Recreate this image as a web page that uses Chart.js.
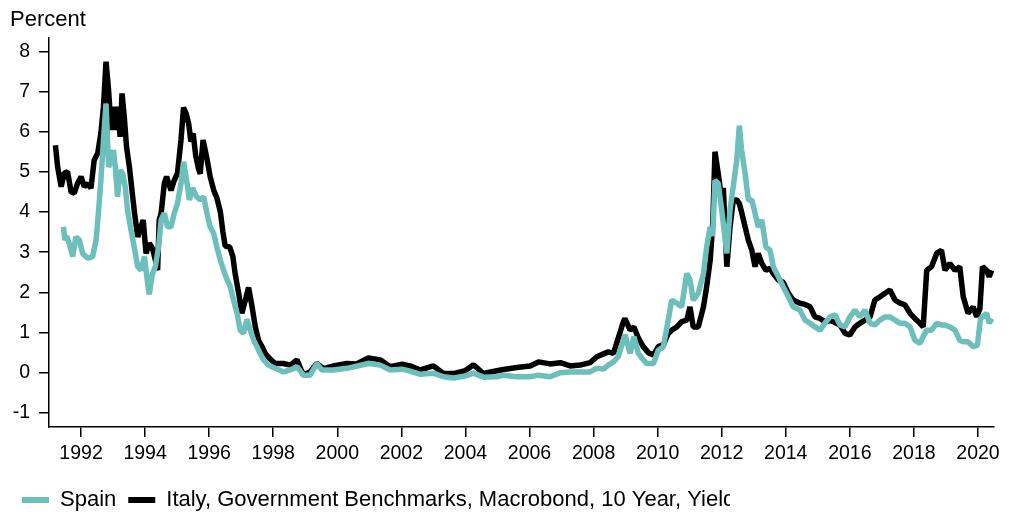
<!DOCTYPE html>
<html>
<head>
<meta charset="utf-8">
<script src="https://cdn.jsdelivr.net/npm/chart.js@4"></script>
<style>
  html, body { margin: 0; padding: 0; background: #fff; }
  #wrap { width: 1010px; height: 514px; }
</style>
</head>
<body>
<div id="wrap"><canvas id="c" width="1010" height="514"></canvas></div>
<script>
// ---- Data (decimal year, percent) ----
const seriesNames = ["Spain", "Italy, Government Benchmarks, Macrobond, 10 Year, Yield"];

const spainDates = [1991.45,1991.50,1991.55,1991.63,1991.74,1991.84,1991.95,1992.05,1992.21,1992.36,1992.47,1992.55,1992.62,1992.70,1992.78,1992.86,1992.94,1993.01,1993.07,1993.14,1993.22,1993.30,1993.38,1993.45,1993.56,1993.66,1993.77,1993.87,1993.98,1994.08,1994.13,1994.23,1994.32,1994.42,1994.50,1994.60,1994.70,1994.81,1994.91,1995.01,1995.12,1995.20,1995.31,1995.38,1995.48,1995.59,1995.72,1995.83,1995.93,1996.03,1996.14,1996.24,1996.35,1996.45,1996.56,1996.66,1996.76,1996.87,1996.97,1997.07,1997.18,1997.28,1997.39,1997.49,1997.59,1997.70,1997.85,1998.06,1998.32,1998.53,1998.74,1998.94,1999.15,1999.36,1999.52,1999.88,2000.30,2000.97,2001.34,2001.65,2002.02,2002.27,2002.59,2003.00,2003.31,2003.63,2003.99,2004.25,2004.56,2004.98,2005.19,2005.60,2006.02,2006.28,2006.64,2006.96,2007.27,2007.58,2007.89,2008.10,2008.31,2008.46,2008.62,2008.77,2008.93,2008.98,2009.14,2009.26,2009.40,2009.55,2009.66,2009.87,2010.02,2010.18,2010.33,2010.44,2010.60,2010.75,2010.91,2011.01,2011.11,2011.27,2011.43,2011.53,2011.64,2011.72,2011.79,2011.89,2012.00,2012.16,2012.26,2012.36,2012.47,2012.55,2012.62,2012.73,2012.83,2012.94,2013.04,2013.14,2013.25,2013.38,2013.51,2013.61,2013.77,2013.92,2014.08,2014.23,2014.44,2014.60,2014.76,2014.91,2015.07,2015.22,2015.38,2015.54,2015.69,2015.85,2016.00,2016.16,2016.31,2016.47,2016.63,2016.78,2016.94,2017.10,2017.25,2017.41,2017.57,2017.72,2017.88,2018.03,2018.19,2018.29,2018.40,2018.55,2018.71,2018.86,2018.97,2019.12,2019.28,2019.43,2019.54,2019.69,2019.85,2019.98,2020.08,2020.16,2020.27,2020.35,2020.43];
const spainValues = [3.63,3.30,3.40,3.22,2.89,3.38,3.30,2.97,2.85,2.89,3.30,4.05,4.79,5.79,6.70,5.12,5.29,5.54,5.12,4.38,5.04,4.96,4.63,4.05,3.55,3.13,2.64,2.55,2.89,2.22,1.95,2.47,2.64,3.13,3.80,3.97,3.63,3.63,3.97,4.21,4.71,5.25,4.71,4.30,4.60,4.40,4.30,4.38,3.97,3.63,3.47,3.13,2.80,2.55,2.31,2.14,1.81,1.48,1.06,0.98,1.33,1.06,0.81,0.65,0.48,0.32,0.19,0.11,0.02,0.07,0.15,-0.06,-0.06,0.23,0.07,0.07,0.11,0.23,0.19,0.07,0.09,0.04,-0.04,-0.01,-0.10,-0.13,-0.08,-0.01,-0.11,-0.10,-0.06,-0.10,-0.10,-0.06,-0.10,0.00,0.02,0.02,0.02,0.11,0.09,0.19,0.27,0.40,0.81,0.95,0.48,0.90,0.48,0.32,0.23,0.23,0.56,0.65,1.31,1.81,1.73,1.64,2.47,2.31,1.81,1.98,2.47,3.13,3.63,3.40,4.79,4.71,4.05,2.97,4.05,4.63,5.29,6.15,5.54,4.96,4.30,4.30,3.97,3.63,3.80,3.13,3.05,2.64,2.39,2.14,1.89,1.64,1.56,1.31,1.23,1.14,1.06,1.23,1.39,1.44,1.19,1.14,1.39,1.56,1.39,1.56,1.23,1.19,1.31,1.39,1.39,1.31,1.23,1.23,1.14,0.81,0.73,0.90,1.06,1.06,1.23,1.19,1.19,1.14,1.06,0.81,0.77,0.77,0.65,0.68,1.35,1.40,1.48,1.23,1.35];

const italyDates = [1991.20,1991.27,1991.38,1991.48,1991.58,1991.69,1991.79,1991.89,1992.00,1992.10,1992.21,1992.31,1992.41,1992.52,1992.62,1992.70,1992.78,1992.86,1992.94,1993.01,1993.07,1993.14,1993.22,1993.28,1993.35,1993.42,1993.51,1993.59,1993.67,1993.77,1993.87,1993.94,1994.03,1994.13,1994.23,1994.32,1994.39,1994.44,1994.50,1994.60,1994.67,1994.74,1994.81,1994.91,1995.01,1995.12,1995.20,1995.28,1995.36,1995.43,1995.50,1995.58,1995.66,1995.72,1995.81,1995.93,1996.03,1996.14,1996.24,1996.35,1996.43,1996.50,1996.64,1996.74,1996.81,1996.92,1997.02,1997.13,1997.23,1997.34,1997.44,1997.54,1997.65,1997.75,1997.88,1998.06,1998.32,1998.53,1998.74,1998.94,1999.15,1999.36,1999.57,1999.88,2000.30,2000.60,2000.97,2001.34,2001.65,2002.02,2002.27,2002.59,2003.00,2003.31,2003.63,2003.99,2004.25,2004.56,2004.98,2005.19,2005.60,2006.02,2006.28,2006.64,2006.96,2007.27,2007.58,2007.89,2008.10,2008.31,2008.46,2008.62,2008.77,2008.93,2008.98,2009.14,2009.26,2009.40,2009.55,2009.71,2009.87,2010.02,2010.18,2010.33,2010.44,2010.60,2010.75,2010.91,2011.01,2011.11,2011.27,2011.43,2011.53,2011.64,2011.72,2011.79,2011.89,2012.00,2012.05,2012.16,2012.26,2012.36,2012.47,2012.55,2012.62,2012.73,2012.83,2012.94,2013.04,2013.14,2013.25,2013.38,2013.51,2013.61,2013.77,2013.92,2014.08,2014.23,2014.44,2014.60,2014.76,2014.91,2015.07,2015.22,2015.38,2015.54,2015.69,2015.85,2016.00,2016.16,2016.31,2016.47,2016.63,2016.78,2016.94,2017.10,2017.25,2017.41,2017.57,2017.72,2017.88,2018.03,2018.19,2018.29,2018.40,2018.55,2018.71,2018.86,2018.97,2019.12,2019.28,2019.43,2019.54,2019.69,2019.85,2019.96,2020.06,2020.14,2020.27,2020.35,2020.43];
const italyValues = [5.66,5.12,4.63,4.97,5.00,4.50,4.47,4.71,4.88,4.63,4.71,4.59,5.29,5.46,5.96,6.62,7.74,7.03,6.04,6.62,6.04,6.62,5.87,6.95,6.37,5.62,5.12,4.54,3.97,3.38,3.63,3.80,2.97,3.22,3.10,2.80,2.55,3.80,3.97,4.71,4.88,4.70,4.54,4.79,4.96,5.79,6.60,6.45,6.20,5.75,5.96,5.40,5.10,4.95,5.79,5.33,4.88,4.55,4.35,4.00,3.50,3.15,3.13,2.89,2.47,1.98,1.48,1.81,2.12,1.64,1.14,0.81,0.65,0.48,0.36,0.23,0.23,0.19,0.32,-0.06,0.02,0.23,0.10,0.17,0.23,0.22,0.37,0.32,0.15,0.21,0.17,0.07,0.17,-0.02,-0.02,0.05,0.20,-0.02,0.05,0.08,0.13,0.17,0.27,0.22,0.25,0.17,0.19,0.25,0.40,0.47,0.52,0.48,0.86,1.27,1.35,1.06,1.14,0.86,0.65,0.50,0.44,0.65,0.70,0.98,1.06,1.14,1.27,1.31,1.64,1.14,1.14,1.64,2.14,2.80,3.72,5.50,4.96,4.30,4.60,2.64,3.63,4.30,4.30,4.21,4.00,3.63,3.30,3.05,2.64,2.97,2.72,2.55,2.60,2.47,2.31,2.25,1.98,1.81,1.73,1.70,1.64,1.39,1.35,1.27,1.30,1.25,1.19,0.98,0.94,1.14,1.23,1.31,1.39,1.81,1.89,1.98,2.06,1.81,1.73,1.69,1.48,1.35,1.23,1.14,2.55,2.64,2.97,3.05,2.55,2.72,2.55,2.64,1.89,1.48,1.64,1.39,1.60,2.64,2.55,2.39,2.55];

const xTickYears = [1992,1994,1996,1998,2000,2002,2004,2006,2008,2010,2012,2014,2016,2018,2020];
const yTickValues = [-1,0,1,2,3,4,5,6,7,8];

// ---- Chart ----
const FONT = "'Liberation Sans', Arial, sans-serif";
const TEAL = "#6cbfba";

const toPoints = (xs, ys) => xs.map((x, i) => ({ x: x, y: ys[i] }));

// the legend row is cut off at the right, as in the original
const legendClip = {
  id: 'legendClip',
  beforeDraw(chart) {
    const ctx = chart.ctx;
    ctx.save();
    ctx.beginPath();
    ctx.rect(0, 0, chart.width, 470);
    ctx.rect(0, 470, 730, chart.height - 470);
    ctx.clip();
  },
  beforeDatasetsDraw(chart) {
    chart.ctx.restore();
  }
};

new Chart(document.getElementById('c'), {
  type: 'line',
  data: {
    datasets: [
      {
        label: seriesNames[0],
        data: toPoints(spainDates, spainValues),
        borderColor: TEAL,
        backgroundColor: TEAL,
        borderWidth: 5.5,
        pointRadius: 0,
        tension: 0,
        borderJoinStyle: 'bevel'
      },
      {
        label: seriesNames[1],
        data: toPoints(italyDates, italyValues),
        borderColor: '#000000',
        backgroundColor: '#000000',
        borderWidth: 5.5,
        pointRadius: 0,
        tension: 0,
        borderJoinStyle: 'bevel'
      }
    ]
  },
  options: {
    responsive: false,
    animation: false,
    devicePixelRatio: 1,
    layout: { padding: { left: 10, right: 16, top: 0, bottom: -7 } },
    scales: {
      x: {
        type: 'linear',
        min: 1991.0,
        max: 2020.5,
        afterBuildTicks: (s) => { s.ticks = xTickYears.map(v => ({ value: v })); },
        afterFit: (s) => { s.height = 50; },
        ticks: {
          autoSkip: false,
          maxRotation: 0,
          padding: 5,
          color: '#000',
          font: { family: FONT, size: 19.5 },
          callback: (v) => String(v)
        },
        grid: { display: true, drawOnChartArea: false, drawTicks: true, tickLength: 10, color: '#000', lineWidth: 1.5 },
        border: { display: true, color: '#000', width: 1.5 }
      },
      y: {
        type: 'linear',
        min: -1.35,
        max: 8.33,
        afterBuildTicks: (s) => { s.ticks = yTickValues.map(v => ({ value: v })); },
        afterFit: (s) => { s.width = 39; },
        ticks: {
          padding: 9,
          color: '#000',
          font: { family: FONT, size: 19.5 },
          callback: (v) => String(v)
        },
        grid: { display: true, drawOnChartArea: false, drawTicks: true, tickLength: 10, color: '#000', lineWidth: 1.5 },
        border: { display: true, color: '#000', width: 1.5 }
      }
    },
    plugins: {
      title: {
        display: true,
        text: 'Percent',
        align: 'start',
        color: '#000',
        font: { family: FONT, size: 22, weight: 'normal' },
        padding: { top: 7, bottom: 4.6 }
      },
      legend: {
        display: true,
        position: 'bottom',
        align: 'start',
        labels: {
          boxWidth: 27,
          boxHeight: 6,
          padding: 12,
          color: '#000',
          font: { family: FONT, size: 22 },
          generateLabels: (chart) => Chart.defaults.plugins.legend.labels.generateLabels(chart).map(l => Object.assign(l, { lineWidth: 0 }))
        }
      },
      tooltip: { enabled: false }
    }
  },
  plugins: [legendClip]
});
</script>
</body>
</html>
